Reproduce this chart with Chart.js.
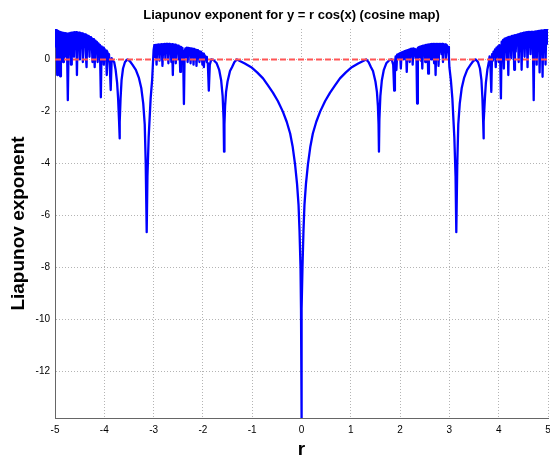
<!DOCTYPE html>
<html>
<head>
<meta charset="utf-8">
<title>Liapunov exponent for y = r cos(x)</title>
<script src="https://cdn.jsdelivr.net/npm/chart.js@4.4.0/dist/chart.umd.min.js"></script>
<style>
  html, body { margin: 0; padding: 0; background: #fff; }
  #wrap { width: 550px; height: 458px; }
</style>
</head>
<body>
<div id="wrap"><canvas id="lyapChart" width="550" height="458"></canvas></div>
<script>
// values
var chartTitle = 'Liapunov exponent for y = r cos(x) (cosine map)';

var rValues = [
  // chaotic band, left edge
  -5.000, -4.985, -4.970, -4.955, -4.940, -4.925, -4.910, -4.895, -4.880, -4.865,
  -4.850, -4.835, -4.820, -4.805, -4.790, -4.775, -4.760, -4.740, -4.720, -4.705,
  -4.690, -4.675, -4.660, -4.645, -4.630, -4.615, -4.600, -4.585, -4.570, -4.555,
  -4.540, -4.525, -4.510, -4.495, -4.480, -4.465, -4.450, -4.435, -4.420, -4.405,
  -4.390, -4.375, -4.360, -4.345, -4.330, -4.315, -4.300, -4.285, -4.270, -4.255,
  -4.240, -4.225, -4.210, -4.195, -4.180, -4.165, -4.150, -4.135, -4.120, -4.105,
  -4.090, -4.070, -4.055, -4.040, -4.025, -4.010, -3.995, -3.980, -3.965, -3.950,
  -3.935, -3.920, -3.905, -3.890, -3.870, -3.850, -3.830,
  // dips at -3.69 and -pi
  -3.800, -3.770, -3.740, -3.720, -3.700, -3.690, -3.685, -3.670, -3.650, -3.620,
  -3.580, -3.530, -3.480, -3.430, -3.360, -3.300, -3.250, -3.210, -3.180, -3.160,
  -3.140, -3.125, -3.100, -3.060, -3.030, -3.000,
  // band -3 .. -1.9
  -2.985, -2.970, -2.955, -2.940, -2.925, -2.910, -2.895, -2.880, -2.865, -2.850,
  -2.835, -2.820, -2.805, -2.790, -2.775, -2.760, -2.745, -2.730, -2.715, -2.700,
  -2.685, -2.670, -2.655, -2.640, -2.625, -2.610, -2.595, -2.580, -2.565, -2.550,
  -2.535, -2.520, -2.505, -2.490, -2.475, -2.460, -2.445, -2.430, -2.415, -2.400,
  -2.385, -2.370, -2.355, -2.340, -2.325, -2.310, -2.295, -2.280, -2.265, -2.250,
  -2.235, -2.220, -2.205, -2.190, -2.175, -2.160, -2.145, -2.130, -2.115, -2.100,
  -2.085, -2.070, -2.055, -2.040, -2.025, -2.010, -1.995, -1.980, -1.965, -1.950,
  -1.935, -1.920,
  // -1.9 .. 0
  -1.900, -1.880, -1.860, -1.830, -1.780, -1.720, -1.670, -1.630, -1.600, -1.580,
  -1.571, -1.563, -1.550, -1.530, -1.500, -1.450, -1.410, -1.360, -1.310, -1.250,
  -1.150, -1.020, -0.900, -0.780, -0.680, -0.580, -0.480, -0.380, -0.300, -0.230,
  -0.180, -0.130, -0.090, -0.060, -0.040, -0.020, -0.010, -0.005, -0.001,
  // 0 .. 1.9
  0.001, 0.005, 0.010, 0.020, 0.040, 0.060, 0.090, 0.130, 0.180, 0.230,
  0.300, 0.380, 0.480, 0.580, 0.680, 0.780, 0.900, 1.020, 1.150, 1.250,
  1.310, 1.360, 1.410, 1.450, 1.500, 1.530, 1.550, 1.563, 1.571, 1.580,
  1.600, 1.630, 1.670, 1.720, 1.780, 1.830, 1.860, 1.880, 1.895,
  // band 1.9 .. 3
  1.910, 1.925, 1.940, 1.955, 1.970, 1.985, 2.000, 2.015, 2.030, 2.045,
  2.060, 2.075, 2.090, 2.105, 2.120, 2.135, 2.150, 2.165, 2.180, 2.195,
  2.210, 2.225, 2.240, 2.255, 2.270, 2.285, 2.300, 2.315, 2.330, 2.345,
  2.360, 2.375, 2.390, 2.405, 2.420, 2.435, 2.450, 2.465, 2.480, 2.495,
  2.510, 2.525, 2.540, 2.555, 2.570, 2.585, 2.600, 2.615, 2.630, 2.645,
  2.660, 2.675, 2.690, 2.705, 2.720, 2.735, 2.750, 2.765, 2.780, 2.795,
  2.810, 2.825, 2.840, 2.855, 2.870, 2.885, 2.900, 2.915, 2.930, 2.945,
  2.960, 2.975, 2.990,
  // dips at pi and 3.69
  3.000, 3.030, 3.060, 3.100, 3.125, 3.140, 3.160, 3.180, 3.210, 3.250,
  3.300, 3.360, 3.430, 3.480, 3.530, 3.580, 3.620, 3.650, 3.670, 3.685,
  3.690, 3.700, 3.720, 3.740, 3.770, 3.800,
  // chaotic band, right edge
  3.815, 3.830, 3.850, 3.865, 3.880, 3.895, 3.910, 3.925, 3.940, 3.955,
  3.970, 3.985, 4.000, 4.015, 4.030, 4.045, 4.060, 4.075, 4.090, 4.105,
  4.120, 4.135, 4.150, 4.165, 4.180, 4.195, 4.210, 4.225, 4.240, 4.255,
  4.270, 4.285, 4.300, 4.315, 4.330, 4.345, 4.360, 4.375, 4.390, 4.405,
  4.420, 4.435, 4.450, 4.465, 4.480, 4.495, 4.510, 4.525, 4.540, 4.555,
  4.570, 4.585, 4.600, 4.615, 4.630, 4.645, 4.660, 4.675, 4.690, 4.710,
  4.725, 4.740, 4.755, 4.770, 4.785, 4.800, 4.815, 4.830, 4.845, 4.860,
  4.875, 4.890, 4.905, 4.920, 4.935, 4.950, 4.965, 4.980, 5.000
];

var lyapValues = [
  1.17, 0.50, 1.14, -0.60, 1.10, 0.30, 1.07, -0.65, 1.05, 0.40,
  1.03, -0.10, 1.02, 0.60, 1.01, 0.10, 1.00, -1.57, 1.00, 0.50,
  1.02, -0.20, 1.03, 0.60, 1.04, 0.10, 1.05, 0.50, 1.05, -0.60,
  1.04, 0.40, 1.03, 0.00, 1.02, 0.60, 1.00, -0.10, 0.98, 0.50,
  0.96, 0.20, -0.30, 0.92, 0.50, 0.90, 0.10, 0.86, 0.40, 0.82,
  -0.10, 0.78, 0.40, -0.30, 0.72, 0.30, 0.67, -0.10, 0.62, 0.30,
  0.56, -1.46, 0.50, 0.20, 0.45, -0.20, 0.40, 0.10, 0.34, -0.60,
  0.28, 0.00, 0.20, -0.20, -1.18, 0.05, -0.05,

  -0.10, -0.40, -0.90, -1.50, -2.40, -3.04, -2.40, -1.50, -0.80, -0.35,
  -0.10, 0.00, -0.07, -0.20, -0.40, -0.70, -1.10, -1.70, -2.50, -4.00,
  -6.65, -4.50, -3.00, -1.50, -0.80, 0.36,

  0.55, 0.10, 0.56, -0.20, 0.57, 0.25, 0.58, -0.05, 0.58, 0.30,
  0.59, -0.25, 0.59, 0.20, 0.60, 0.00, 0.60, 0.30, 0.60, -0.15,
  0.60, 0.25, 0.59, -0.10, 0.59, -0.60, 0.58, 0.20, 0.57, -0.15,
  0.55, 0.25, 0.53, 0.00, 0.50, -0.48, 0.48, 0.15, 0.44, 0.05,
  -1.72, 0.30, 0.42, 0.10, 0.45, -0.10, 0.44, 0.20, 0.43, -0.15,
  0.42, 0.10, 0.41, -0.20, 0.40, 0.15, 0.38, -0.25, 0.36, 0.05,
  0.33, -0.10, 0.30, 0.00, 0.26, -0.20, 0.22, -0.30, 0.16, 0.00,
  0.10, -0.10,

  -0.15, -1.20, -0.20, 0.00, -0.03, -0.15, -0.40, -0.80, -1.40, -2.30,
  -3.55, -2.50, -1.80, -1.25, -0.85, -0.45, -0.30, -0.10, 0.00, -0.06,
  -0.16, -0.30, -0.50, -0.73, -1.00, -1.28, -1.60, -2.00, -2.40, -2.85,
  -3.35, -4.05, -4.80, -5.60, -6.60, -8.00, -9.60, -11.60, -13.80,

  -13.80, -11.60, -9.60, -8.00, -6.60, -5.60, -4.80, -4.05, -3.35, -2.85,
  -2.40, -2.00, -1.60, -1.28, -1.00, -0.73, -0.50, -0.30, -0.16, -0.06,
  0.00, -0.10, -0.30, -0.45, -0.85, -1.25, -1.80, -2.50, -3.55, -2.30,
  -1.40, -0.80, -0.40, -0.15, -0.03, 0.00, -0.20, -1.20, -0.15,

  0.12, -0.41, 0.18, 0.02, 0.21, 0.08, 0.24, -0.35, 0.27, 0.10,
  0.29, 0.00, 0.32, 0.15, 0.34, -0.48, 0.36, 0.12, 0.38, -0.10,
  0.40, 0.20, 0.41, -0.20, 0.42, 0.15, 0.40, 0.05, 0.38, -1.70,
  0.44, 0.47, 0.10, 0.49, -0.05, 0.51, -0.35, 0.53, 0.20, 0.54,
  -0.10, 0.56, 0.25, 0.57, -0.55, 0.58, 0.20, 0.59, 0.00, 0.60,
  0.30, 0.60, -0.15, 0.60, -0.60, 0.60, 0.25, 0.60, -0.25, 0.60,
  0.30, 0.60, 0.20, 0.60, -0.10, 0.59, 0.30, 0.58, 0.05, 0.56,
  0.40, 0.48, 0.10,

  -0.30, -0.80, -1.50, -3.00, -4.50, -6.65, -4.00, -2.50, -1.70, -1.10,
  -0.70, -0.40, -0.20, -0.07, 0.00, -0.10, -0.35, -0.80, -1.50, -2.40,
  -3.04, -2.40, -1.50, -0.90, -0.40, -0.10,

  0.12, -0.10, -1.25, 0.20, -0.05, 0.30, 0.10, 0.38, -0.30, 0.45,
  0.15, 0.50, -0.10, 0.55, 0.20, -1.50, 0.68, 0.30, 0.75, -0.35,
  0.80, 0.40, 0.82, 0.00, 0.85, -0.60, 0.87, 0.45, 0.88, 0.05,
  0.90, 0.50, 0.91, -0.40, 0.93, 0.30, 0.94, 0.60, 0.96, -0.10,
  0.98, 0.50, 1.00, -0.40, 1.01, 0.60, 1.03, 0.10, 1.04, 0.50,
  1.05, -0.30, 1.06, 0.70, 1.06, 0.20, 1.06, 0.60, 1.06, -1.57,
  1.07, 0.50, 1.08, -0.20, 1.09, 0.60, 1.10, -0.50, 1.11, 0.70,
  1.12, -0.67, 1.12, 0.40, 1.13, -0.20, 1.15, 0.60, 1.17
];

// red dashed reference line at zero
var zeroLineR = [-5, 5];
var zeroLineY = [0, 0];

var xTickValues = [-5, -4, -3, -2, -1, 0, 1, 2, 3, 4, 5];
var yTickValues = [-12, -10, -8, -6, -4, -2, 0];
var xMin = -5, xMax = 5;
var yMin = -13.8, yMax = 1.17;

if (rValues.length !== lyapValues.length) {
    throw new Error('length mismatch ' + rValues.length + ' / ' + lyapValues.length);
}

var fontFamily = '"Liberation Sans", Arial, Helvetica, sans-serif';
Chart.defaults.font.family = fontFamily;
Chart.defaults.color = '#000';

function toPoints(xs, ys) {
    return xs.map(function(x, i) { return { x: x, y: ys[i] }; });
}

// matlab style title, sits a bit left of the axes centre
var titlePlugin = {
    id: 'matlabTitle',
    afterDraw: function(chart) {
        var ctx = chart.ctx;
        var area = chart.chartArea;
        ctx.save();
        ctx.font = 'bold 13px ' + fontFamily;
        ctx.fillStyle = '#000';
        ctx.textAlign = 'center';
        ctx.textBaseline = 'alphabetic';
        ctx.fillText(chartTitle, (area.left + area.right) / 2 - 10, area.top - 10);
        ctx.restore();
    }
};

var ctx = document.getElementById('lyapChart').getContext('2d');
var lyapChart = new Chart(ctx, {
    type: 'scatter',
    data: {
        datasets: [{
            label: 'zero',
            data: toPoints(zeroLineR, zeroLineY),
            showLine: true,
            borderColor: 'rgb(255, 85, 85)',
            borderWidth: 2,
            borderDash: [6, 3],
            pointRadius: 0,
            order: 0
        }, {
            label: 'Liapunov exponent',
            data: toPoints(rValues, lyapValues),
            showLine: true,
            borderColor: '#0000ff',
            borderWidth: 2.3,
            borderJoinStyle: 'round',
            tension: 0,
            pointRadius: 0,
            order: 1
        }]
    },
    options: {
        responsive: false,
        animation: false,
        devicePixelRatio: 1,
        layout: { padding: { top: 29, right: 2, left: 0, bottom: 0 } },
        plugins: {
            legend: { display: false },
            tooltip: { enabled: false },
            title: { display: false }
        },
        scales: {
            x: {
                type: 'linear',
                min: xMin,
                max: xMax,
                afterBuildTicks: function(scale) {
                    scale.ticks = xTickValues.map(function(v) { return { value: v }; });
                },
                afterFit: function(scale) {
                    scale.height = 40;
                    scale.paddingRight = 0;
                    scale.paddingLeft = 0;
                },
                grid: { color: '#b4b4b4', lineWidth: 1, drawTicks: false },
                border: { display: true, color: '#666', width: 1, dash: [1, 2] },
                ticks: {
                    autoSkip: false, maxRotation: 0, padding: 6,
                    font: { size: 10 },
                    callback: function(v) { return String(v); }
                },
                title: {
                    display: true, text: 'r',
                    font: { size: 19, weight: 'bold', lineHeight: 0.9 },
                    padding: { top: 0, bottom: 0 }
                }
            },
            y: {
                type: 'linear',
                min: yMin,
                max: yMax,
                afterBuildTicks: function(scale) {
                    scale.ticks = yTickValues.map(function(v) { return { value: v }; });
                },
                afterFit: function(scale) { scale.width = 55; },
                grid: { color: '#b4b4b4', lineWidth: 1, drawTicks: false },
                border: { display: true, color: '#666', width: 1, dash: [1, 2] },
                ticks: {
                    autoSkip: false, padding: 5,
                    font: { size: 10 },
                    callback: function(v) { return String(v); }
                },
                title: {
                    display: true, text: 'Liapunov exponent',
                    font: { size: 19, weight: 'bold' },
                    padding: { top: 7, bottom: 0 }
                }
            }
        }
    },
    plugins: [titlePlugin]
});
</script>
</body>
</html>
